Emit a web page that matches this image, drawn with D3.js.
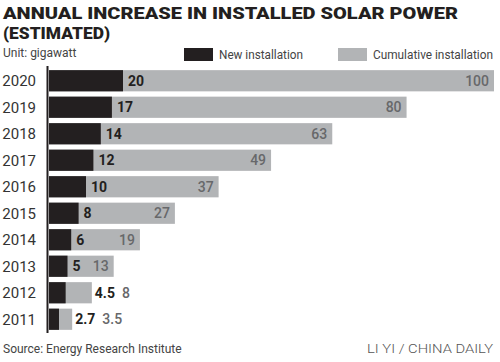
<!DOCTYPE html>
<html><head><meta charset="utf-8">
<script src="https://cdn.jsdelivr.net/npm/d3@7"></script>
<style>body{margin:0;background:#fff}svg{display:block}text{font-family:Roboto,"Liberation Sans",sans-serif}</style>
</head><body>
<svg id="c" width="500" height="362"></svg>
<script>
const years = ["2020","2019","2018","2017","2016","2015","2014","2013","2012","2011"];
const newInstall = [20,17,14,12,10,8,6,5,4.5,2.7];
const cumulative = [100,80,63,49,37,27,19,13,8,3.5];
const newLabels = ["20","17","14","12","10","8","6","5","4.5","2.7"];
const cumLabels = ["100","80","63","49","37","27","19","13","8","3.5"];

const svg = d3.select("#c");
const black = "#231f20", gray = "#b2b4b6", grayText = "#67686a";

// Title
svg.append("text").attr("x",3).attr("y",19).attr("font-size",17).attr("font-weight",900)
  .attr("fill",black).attr("textLength",455).attr("lengthAdjust","spacingAndGlyphs")
  .text("ANNUAL INCREASE IN INSTALLED SOLAR POWER");
svg.append("text").attr("x",3).attr("y",39).attr("font-size",17).attr("font-weight",900)
  .attr("fill",black).attr("textLength",107).attr("lengthAdjust","spacingAndGlyphs")
  .text("(ESTIMATED)");
svg.append("text").attr("x",3).attr("y",57).attr("font-size",12).attr("fill","#444").text("Unit: gigawatt");

// Legend
svg.append("rect").attr("x",184).attr("y",48).attr("width",29).attr("height",13).attr("fill",black);
svg.append("text").attr("x",219).attr("y",59).attr("font-size",12.5).attr("fill","#444")
  .attr("textLength",84).attr("lengthAdjust","spacingAndGlyphs").text("New installation");
svg.append("rect").attr("x",338).attr("y",48).attr("width",29).attr("height",13).attr("fill",gray);
svg.append("text").attr("x",373).attr("y",59).attr("font-size",12.5).attr("fill","#444")
  .attr("textLength",120).attr("lengthAdjust","spacingAndGlyphs").text("Cumulative installation");

const y = d3.scaleBand().domain(years).range([67.5,332.5]).paddingInner(0.2).paddingOuter(0.1);
const xNew = d3.scaleLinear().domain([0,20]).range([49,123]);
const xCum = d3.scaleLinear().domain([-1.8,100]).range([49,494]);

const data = years.map((yr,i)=>({yr, n:newInstall[i], c:cumulative[i], nl:newLabels[i], cl:cumLabels[i]}));

const g = svg.append("g");
g.selectAll("rect.cum").data(data).join("rect").attr("class","cum")
  .attr("x",xCum(-1.8)).attr("y",d=>y(d.yr)).attr("width",d=>xCum(d.c)-xCum(-1.8)).attr("height",y.bandwidth()).attr("fill",gray);
g.selectAll("rect.new").data(data).join("rect").attr("class","new")
  .attr("x",xNew(0)).attr("y",d=>y(d.yr)).attr("width",d=>xNew(d.n)-xNew(0)).attr("height",y.bandwidth()).attr("fill",black);

// axis line
svg.append("line").attr("x1",47.5).attr("x2",47.5).attr("y1",66).attr("y2",333).attr("stroke",black).attr("stroke-width",2);

// year labels
svg.selectAll("text.yr").data(data).join("text").attr("class","yr")
  .attr("x",36).attr("y",d=>y(d.yr)+y.bandwidth()/2).attr("dy","0.36em").attr("text-anchor","end")
  .attr("font-size",15).attr("fill","#333").text(d=>d.yr);

// value labels
data.forEach(d=>{
  const cy = y(d.yr)+y.bandwidth()/2;
  const t1 = svg.append("text").attr("y",cy).attr("dy","0.36em").attr("font-size",14).attr("font-weight",700)
    .attr("fill",black).text(d.nl);
  const w1 = t1.node().getComputedTextLength();
  let x1 = xNew(d.n)+5;
  const gEnd = xCum(d.c);
  if (x1 + w1 + 3 > gEnd) x1 = gEnd + 3;
  t1.attr("x",x1);
  const t2 = svg.append("text").attr("y",cy).attr("dy","0.36em").attr("font-size",14).attr("font-weight",500)
    .attr("fill",grayText).text(d.cl);
  const w2 = t2.node().getComputedTextLength();
  if (gEnd - 5 - w2 > x1 + w1 + 4) {
    t2.attr("x",gEnd-5).attr("text-anchor","end");
  } else {
    t2.attr("x",Math.max(gEnd, x1+w1)+7);
  }
});

// footer
svg.append("text").attr("x",3).attr("y",353).attr("font-size",12).attr("fill","#444").text("Source: Energy Research Institute");
svg.append("text").attr("x",493).attr("y",353).attr("text-anchor","end").attr("font-size",13).attr("font-weight",300)
  .attr("fill","#555").attr("textLength",126).attr("lengthAdjust","spacingAndGlyphs").text("LI YI / CHINA DAILY");
</script>
</body></html>
